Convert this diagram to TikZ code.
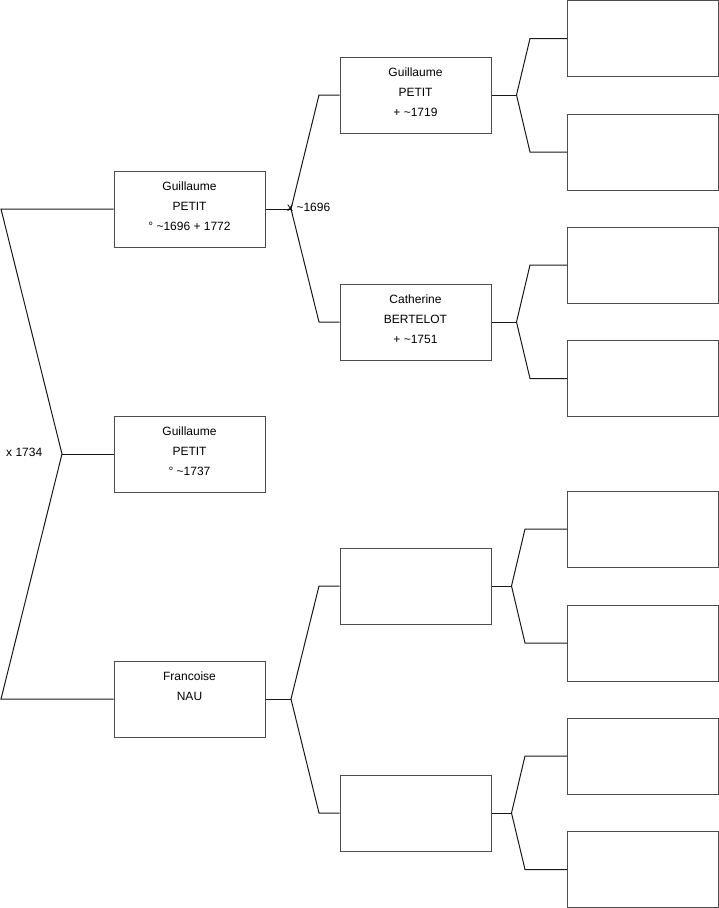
\documentclass[tikz,border=0pt]{standalone}
\usepackage{fontspec}
\setmainfont{Liberation Sans}
\usetikzlibrary{positioning}

\begin{document}
\begin{tikzpicture}[
    x=1pt,
    y=-1pt,
    font=\fontsize{12}{20}\selectfont,
    personne/.style={
        draw=black!70,
        line width=1pt,
        minimum width=151pt,
        minimum height=76pt,
        inner sep=0pt
    },
    texte/.style={
        align=center,
        yshift=2.5pt,
        inner sep=0pt
    },
    lien/.style={
        line width=1pt,
        black!90
    },
    union/.style={
        anchor=west,
        inner sep=0pt
    }
]

\useasboundingbox (0,0) rectangle (719,908);

% Sosa 1
\node[personne, label={[texte]center:{Guillaume\\PETIT\\° \textasciitilde 1737}}] (moi) at (189.5,454) {};

% Parents
\node[personne, label={[texte]center:{Guillaume\\PETIT\\° \textasciitilde 1696 + 1772}}] (pere) at (189.5,209) {};
\node[personne, label={[texte, yshift=10pt]center:{Francoise\\NAU}}] (mere) at (189.5,699) {};

% Grands-parents
\node[personne, label={[texte]center:{Guillaume\\PETIT\\+ \textasciitilde 1719}}] (gpp) at (415.5,95) {};
\node[personne, label={[texte]center:{Catherine\\BERTELOT\\+ \textasciitilde 1751}}] (gmp) at (415.5,322) {};
\node[personne] (gpm) at (415.5,586) {};
\node[personne] (gmm) at (415.5,813) {};

% Arriere-grands-parents (vides)
\foreach \y [count=\i] in {38.5,152,265,378.5,529,643,756,869.5} {
    \node[personne] (a\i) at (643,\y) {};
}

% Mariage des parents
\coordinate (m0) at (62,454);
\coordinate (h0) at (1,209);
\coordinate (f0) at (1,699);
\draw[lien] (pere.west) -- (h0) -- (m0) -- (f0) -- (mere.west);
\draw[lien] (m0) -- (moi.west);
\node[union] at (6,452) {x 1734};

% Mariage des grands-parents paternels
\coordinate (m1) at (291,209);
\coordinate (h1) at (319,95);
\coordinate (f1) at (319,322);
\draw[lien] (pere.east) -- (m1);
\draw[lien] (gpp.west) -- (h1) -- (m1) -- (f1) -- (gmp.west);
\node[union] at (287,207) {x \textasciitilde 1696};

% Grands-parents maternels
\coordinate (m2) at (291,699);
\coordinate (h2) at (319,586);
\coordinate (f2) at (319,813);
\draw[lien] (mere.east) -- (m2);
\draw[lien] (gpm.west) -- (h2) -- (m2) -- (f2) -- (gmm.west);

% Generation suivante
\foreach \p/\a/\b/\d/\e in {gpp/a1/a2/25/37, gmp/a3/a4/25/37, gpm/a5/a6/20/42, gmm/a7/a8/20/42} {
    \draw[lien] (\p.east) -- ++(\d,0) coordinate (j\p);
    \draw[lien] (\a.west) -- ++(-\e,0) -- (j\p);
    \draw[lien] (\b.west) -- ++(-\e,0) -- (j\p);
}

\end{tikzpicture}
\end{document}
